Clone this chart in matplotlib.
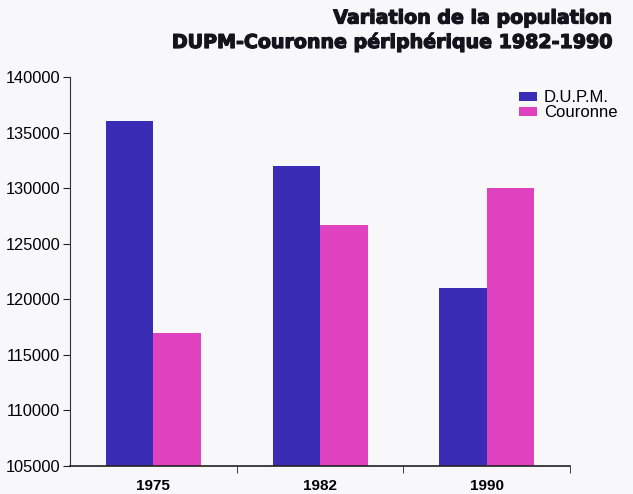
import matplotlib.pyplot as plt
import matplotlib.patheffects as pe
import numpy as np

annees = ['1975', '1982', '1990']
dupm = [136000, 132000, 121000]
couronne = [117000, 126700, 130000]
yticks = [105000, 110000, 115000, 120000, 125000, 130000, 135000, 140000]

bleu = '#3b2cb5'
rose = '#e042bf'
fond = '#f8f8fb'

fig = plt.figure(figsize=(6.33, 4.94), dpi=100, facecolor=fond)
ax = fig.add_axes([70 / 633, 28 / 494, 500 / 633, 389 / 494], facecolor=fond)

x = np.arange(len(annees))
w = 0.285
ax.bar(x - w / 2, dupm, w, color=bleu, label='D.U.P.M.')
ax.bar(x + w / 2, couronne, w, color=rose, label='Couronne')

ax.set_ylim(105000, 140000)
ax.set_xlim(-0.5, 2.5)
ax.set_yticks(yticks)
ax.set_yticklabels([str(v) for v in yticks], fontsize=11.8, family='Liberation Sans')

# années centrées sous chaque groupe, traits aux séparations
ax.set_xticks(x)
ax.set_xticklabels(annees, fontsize=11, family='Liberation Sans', fontweight='bold')
ax.tick_params(axis='x', length=0, pad=9)
ax.set_xticks([0.5, 1.5, 2.5], minor=True)
ax.tick_params(axis='x', which='minor', length=5, direction='out', color='#222222')
ax.tick_params(axis='y', length=5, direction='out', color='#222222', pad=2)

ax.spines['top'].set_visible(False)
ax.spines['right'].set_visible(False)
ax.spines['left'].set_color('#333333')
ax.spines['bottom'].set_color('#222222')
ax.spines['bottom'].set_linewidth(1.2)

leg = fig.legend(loc='upper left', bbox_to_anchor=(519 / 633, 1 - 90 / 494), frameon=False,
                 prop={'family': 'Liberation Sans', 'size': 12},
                 handlelength=1.1, handleheight=0.45, handletextpad=0.4,
                 labelspacing=0.0, borderaxespad=0.0, borderpad=0.0)

gras = [pe.withStroke(linewidth=0.9, foreground='#15131c')]
fig.text(613 / 633, 1 - 18 / 494, 'Variation de la population', ha='right', va='center',
         fontsize=13.7, fontweight='heavy', color='#15131c', path_effects=gras)
fig.text(613 / 633, 1 - 42 / 494, 'DUPM-Couronne périphérique 1982-1990', ha='right', va='center',
         fontsize=13.7, fontweight='heavy', color='#15131c', path_effects=gras)

fig.savefig('out.png', dpi=100, facecolor=fond)
